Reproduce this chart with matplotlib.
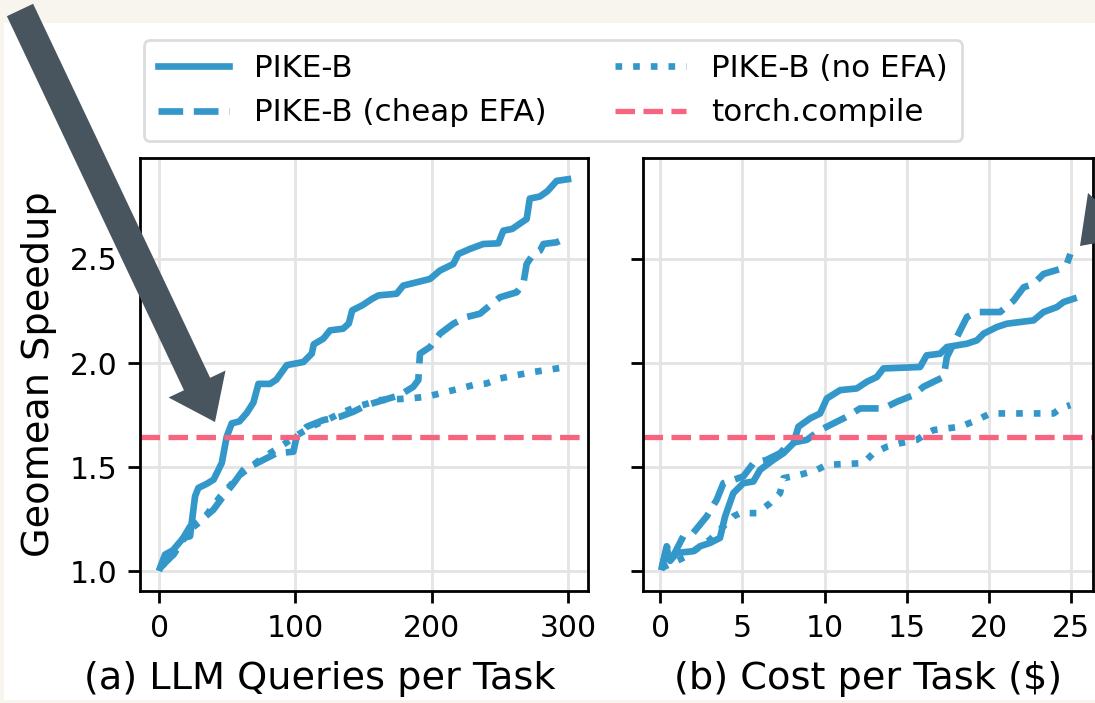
import matplotlib
matplotlib.use("Agg")
import matplotlib.pyplot as plt
import numpy as np
from matplotlib.patches import Rectangle, Polygon

# (a) LLM queries per task
q_full = [0.7, 4.4, 10, 17.8, 22.7, 26.4, 28.8, 35, 40, 46, 49.6, 53.3, 59, 64.3, 69.2, 72.9,
          81.4, 86, 93.7, 105.9, 112, 113.5, 120.5, 125.4, 135, 139.2, 141.7, 149, 156.4, 161,
          174.3, 179.1, 189, 198.8, 206, 215.9, 219.6, 228, 237.9, 248.9, 252.6, 259, 269.7,
          272, 279.4, 285, 291.7, 300]
s_full = [1.016, 1.08, 1.10, 1.16, 1.168, 1.36, 1.40, 1.42, 1.44, 1.52, 1.646, 1.71, 1.72, 1.76,
          1.81, 1.90, 1.90, 1.92, 1.99, 2.005, 2.045, 2.09, 2.117, 2.157, 2.165, 2.19, 2.253,
          2.277, 2.309, 2.325, 2.333, 2.372, 2.388, 2.404, 2.444, 2.476, 2.524, 2.548, 2.572,
          2.575, 2.636, 2.644, 2.692, 2.79, 2.80, 2.826, 2.875, 2.883]

q_cheap = [0.7, 10.5, 22.7, 32.5, 39.8, 47.1, 54.4, 61.8, 69.1, 78.9, 86.2, 98.5, 100.9, 108.3,
           120.5, 132.7, 142.5, 152.3, 164.5, 176.7, 186.5, 190.2, 191.4, 198.8, 206.1, 215.9,
           225.6, 235.4, 242.8, 250.1, 262.4, 267.2, 269.7, 274.6, 279.5, 282, 291.7, 300]
s_cheap = [1.016, 1.08, 1.215, 1.255, 1.295, 1.36, 1.42, 1.487, 1.51, 1.543, 1.567, 1.574, 1.646,
           1.694, 1.726, 1.742, 1.766, 1.798, 1.822, 1.846, 1.886, 1.918, 2.045, 2.077, 2.141,
           2.189, 2.221, 2.237, 2.277, 2.316, 2.34, 2.38, 2.476, 2.524, 2.54, 2.572, 2.58, 2.604]

q_noefa = [0.7, 10.5, 22.7, 32.5, 45, 59.4, 75, 88.8, 103.4, 113.5, 123, 132.7, 145, 162, 184,
           196.2, 206, 220.8, 230.5, 240.3, 250, 262.3, 274.5, 286.8, 299]
s_noefa = [1.016, 1.08, 1.20, 1.25, 1.36, 1.463, 1.54, 1.598, 1.662, 1.70, 1.726, 1.758, 1.79,
           1.822, 1.83, 1.838, 1.854, 1.878, 1.894, 1.902, 1.926, 1.942, 1.957, 1.969, 1.981]

# (b) cost per task ($)
c_full = [0.1, 0.39, 0.6, 1.0, 2.0, 2.42, 3.03, 3.63, 3.94, 4.44, 5.05, 5.66, 6.07, 6.88, 7.49,
          8.1, 8.4, 9.11, 9.72, 10.13, 10.94, 11.95, 12.56, 13.17, 13.57, 15.8, 16.2, 17.02,
          17.43, 18.65, 19.26, 19.66, 20.47, 21.08, 22.7, 23.31, 24.13, 24.53, 25.14]
b_full = [1.02, 1.11, 1.05, 1.088, 1.096, 1.12, 1.136, 1.16, 1.263, 1.375, 1.423, 1.431, 1.487,
          1.535, 1.567, 1.615, 1.694, 1.734, 1.758, 1.83, 1.87, 1.878, 1.91, 1.933, 1.974, 1.981,
          2.037, 2.045, 2.077, 2.093, 2.109, 2.141, 2.173, 2.189, 2.205, 2.245, 2.269, 2.293, 2.309]

c_cheap = [0.1, 0.39, 0.7, 1.4, 2.0, 2.82, 3.43, 3.84, 5.05, 5.66, 6.47, 7.28, 7.89, 8.91, 9.72,
           10.53, 11.34, 12.15, 13.57, 14.39, 15.4, 16.0, 16.62, 17.23, 17.43, 18.04, 18.65,
           19.26, 20.67, 21.49, 22.1, 22.7, 23.31, 24.33, 24.73, 24.94]
b_cheap = [1.02, 1.12, 1.06, 1.168, 1.184, 1.263, 1.343, 1.423, 1.455, 1.519, 1.535, 1.567,
           1.615, 1.631, 1.678, 1.71, 1.742, 1.782, 1.782, 1.814, 1.846, 1.886, 1.91, 1.933,
           2.029, 2.125, 2.221, 2.245, 2.245, 2.30, 2.364, 2.38, 2.428, 2.452, 2.476, 2.524]

c_noefa = [0.1, 1.6, 3.03, 4.44, 4.85, 5.87, 6.68, 7.28, 7.49, 8.5, 9.52, 10.13, 12.36, 12.96,
           13.78, 14.59, 15.6, 16.2, 16.62, 18.24, 19.26, 20.07, 23.92, 24.33, 24.94]
b_noefa = [1.016, 1.072, 1.152, 1.263, 1.279, 1.279, 1.327, 1.375, 1.447, 1.463, 1.487, 1.511,
           1.519, 1.567, 1.598, 1.615, 1.631, 1.662, 1.678, 1.694, 1.726, 1.758, 1.758, 1.782,
           1.798]

torch_compile = 1.643

blue = '#3398c9'
pink = '#f7647f'
beige = '#f8f5ee'
arrow_col = '#48555e'

tick_fs = 21.5
label_fs = 27.5
legend_fs = 22.3

plt.rcParams['font.family'] = 'DejaVu Sans'
plt.rcParams['font.size'] = tick_fs
plt.rcParams['axes.linewidth'] = 2.0
for ax_name in ['xtick', 'ytick']:
    plt.rcParams[ax_name + '.major.size'] = 8.3
    plt.rcParams[ax_name + '.major.width'] = 2.0
    plt.rcParams[ax_name + '.major.pad'] = 8

fig = plt.figure(figsize=(10.95, 7.03), dpi=100, facecolor=beige)
W, H = 1095.0, 703.0
fig.add_artist(Rectangle((4 / W, 3 / H), 1, 1 - 26 / H, transform=fig.transFigure,
                         facecolor='white', edgecolor='none', zorder=-10))

ax1 = fig.add_axes([140 / W, 1 - 591 / H, 448 / W, 433 / H])
ax2 = fig.add_axes([642.7 / W, 1 - 591 / H, 450 / W, 433 / H], sharey=ax1)

lw = 4.8
h1, = ax1.plot(q_full, s_full, color=blue, lw=lw, ls='-', label='PIKE-B')
h2, = ax1.plot(q_cheap, s_cheap, color=blue, lw=lw, ls='--', label='PIKE-B (cheap EFA)')
h3, = ax1.plot(q_noefa, s_noefa, color=blue, lw=lw, ls=':', label='PIKE-B (no EFA)')
h4 = ax1.axhline(torch_compile, color=pink, lw=3.8, ls='--', label='torch.compile')

ax2.plot(c_full, b_full, color=blue, lw=lw, ls='-')
ax2.plot(c_cheap, b_cheap, color=blue, lw=lw, ls='--')
ax2.plot(c_noefa, b_noefa, color=blue, lw=lw, ls=':')
ax2.axhline(torch_compile, color=pink, lw=3.8, ls='--')

for ax in (ax1, ax2):
    ax.grid(True, color='#e4e4e4', lw=2)
    ax.set_axisbelow(True)

ax1.set_xlim(-14, 314.7)
ax1.set_xticks([0, 100, 200, 300])
ax2.set_xlim(-1.07, 26.3)
ax2.set_xticks([0, 5, 10, 15, 20, 25])
ax1.set_ylim(0.905, 2.985)
ax1.set_yticks([1.0, 1.5, 2.0, 2.5])
plt.setp(ax2.get_yticklabels(), visible=False)

ax1.set_xlabel('(a) LLM Queries per Task', fontsize=label_fs)
ax2.set_xlabel('(b) Cost per Task ($)', fontsize=label_fs)
ax1.xaxis.set_label_coords(0.402, -0.162)
ax2.xaxis.set_label_coords(0.5, -0.162)
ax1.set_ylabel('Geomean Speedup', fontsize=label_fs, labelpad=9)

leg = fig.legend([h1, h2, h3, h4],
                 ['PIKE-B', 'PIKE-B (cheap EFA)', 'PIKE-B (no EFA)', 'torch.compile'],
                 loc='upper center', bbox_to_anchor=(553 / W, 1 - 40 / H), ncol=2,
                 fontsize=legend_fs, handlelength=2.3, columnspacing=2.2, labelspacing=0.5,
                 borderpad=0.45, borderaxespad=0, frameon=True, fancybox=True)
leg.get_frame().set_edgecolor('#d4d4d4')
leg.get_frame().set_linewidth(2)


# slide arrows drawn over the figure (pixel geometry -> figure fraction)
def to_fig(points):
    return [(x / W, 1 - y / H) for x, y in points]


tail = np.array([20.0, 10.0])
tip = np.array([215.0, 422.0])
d = (tip - tail) / np.linalg.norm(tip - tail)
n = np.array([-d[1], d[0]])
shaft_w, head_w, head_l = 29.0, 63.0, 42.0
base = tip - d * head_l
arrow_pts = [tail + n * shaft_w / 2, base + n * shaft_w / 2, base + n * head_w / 2, tip,
             base - n * head_w / 2, base - n * shaft_w / 2, tail - n * shaft_w / 2]
fig.add_artist(Polygon(to_fig(arrow_pts), closed=True, transform=fig.transFigure,
                       facecolor=arrow_col, edgecolor='none', zorder=20))
fig.add_artist(Polygon(to_fig([(1080, 246), (1088, 193), (1135, 236)]), closed=True,
                       transform=fig.transFigure, facecolor=arrow_col, edgecolor='none',
                       zorder=20))

fig.savefig('out.png', dpi=100, facecolor=beige)
